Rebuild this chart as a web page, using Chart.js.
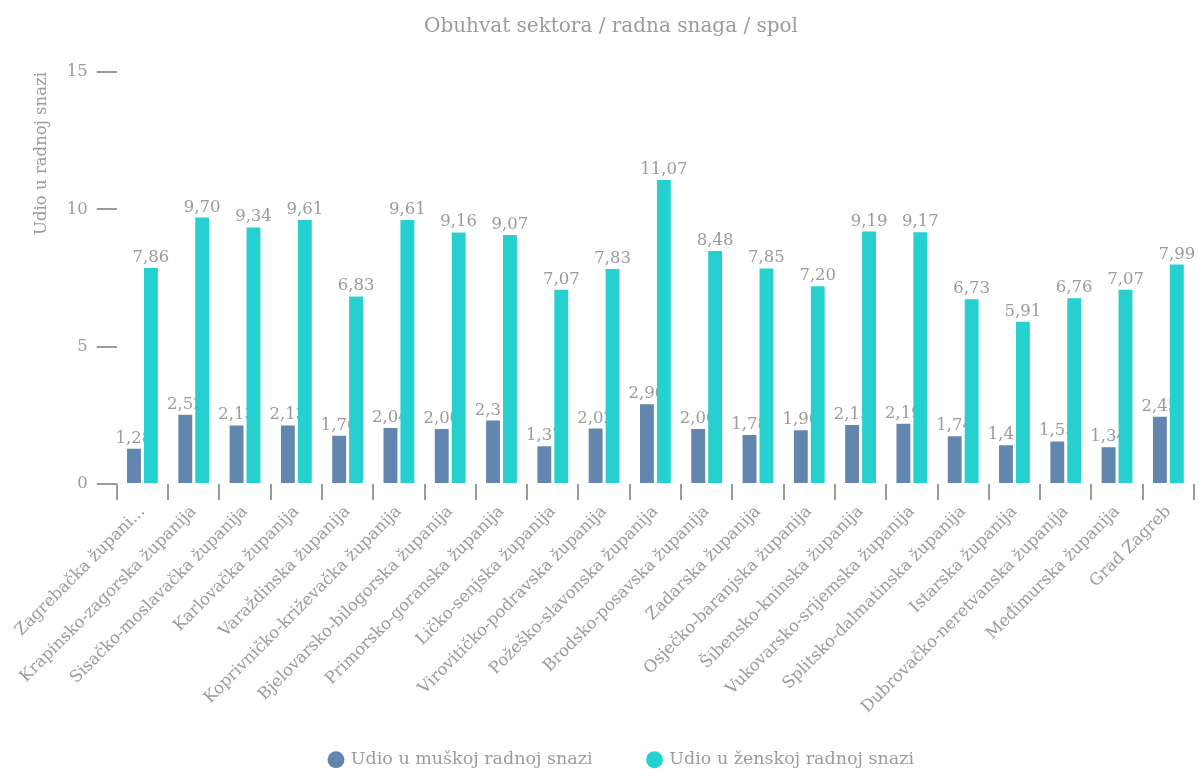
<!DOCTYPE html>
<html>
<head>
<meta charset="utf-8">
<script src="https://cdn.jsdelivr.net/npm/chart.js@4"></script>
<style>
  body { margin: 0; background: #fff; }
</style>
</head>
<body>
<canvas id="chart" width="1201" height="769"></canvas>
<script>
const zupanije = [
  'Zagrebačka župani...', 'Krapinsko-zagorska županija', 'Sisačko-moslavačka županija',
  'Karlovačka županija', 'Varaždinska županija', 'Koprivničko-križevačka županija',
  'Bjelovarsko-bilogorska županija', 'Primorsko-goranska županija', 'Ličko-senjska županija',
  'Virovitičko-podravska županija', 'Požeško-slavonska županija', 'Brodsko-posavska županija',
  'Zadarska županija', 'Osječko-baranjska županija', 'Šibensko-kninska županija',
  'Vukovarsko-srijemska županija', 'Splitsko-dalmatinska županija', 'Istarska županija',
  'Dubrovačko-neretvanska županija', 'Međimurska županija', 'Grad Zagreb'
];
const muskarci = [1.28, 2.52, 2.13, 2.13, 1.76, 2.04, 2.00, 2.31, 1.37, 2.02, 2.90,
                  2.00, 1.78, 1.96, 2.15, 2.19, 1.74, 1.41, 1.55, 1.34, 2.45];
const zene = [7.86, 9.70, 9.34, 9.61, 6.83, 9.61, 9.16, 9.07, 7.07, 7.83, 11.07,
              8.48, 7.85, 7.20, 9.19, 9.17, 6.73, 5.91, 6.76, 7.07, 7.99];

const siva = '#9b9b9b';
const font = 'DejaVu Serif';

function crtajOznake(chart, index) {
  const ctx = chart.ctx;
  const ds = chart.data.datasets[index];
  const meta = chart.getDatasetMeta(index);
  ctx.save();
  ctx.font = '16.5px "' + font + '"';
  ctx.fillStyle = siva;
  ctx.textAlign = 'center';
  ctx.textBaseline = 'alphabetic';
  meta.data.forEach(function (bar, i) {
    ctx.fillText(ds.data[i].toFixed(2).replace('.', ','), bar.x, bar.y - 6);
  });
  ctx.restore();
}

// oznake muških vrijednosti idu ispod stupaca (ženski stupci ih djelomično prekrivaju),
// oznake ženskih iznad svega
const oznake = {
  id: 'oznake',
  beforeDatasetsDraw(chart) { crtajOznake(chart, 0); },
  afterDatasetsDraw(chart) { crtajOznake(chart, 1); }
};

// x os je namjerno niža od svojih nakošenih natpisa; da se natpisi ne odrežu,
// donji rub osi spušta se do dna platna, a legenda se malo pomiče udesno
const raspored = {
  id: 'raspored',
  afterLayout(chart) {
    chart.scales.x.bottom = chart.height;
    chart.legend.left += 11;
    chart.legend.right += 11;
  }
};

const ctx = document.getElementById('chart').getContext('2d');
new Chart(ctx, {
  type: 'bar',
  data: {
    labels: zupanije,
    datasets: [{
      label: 'Udio u muškoj radnoj snazi',
      data: muskarci,
      backgroundColor: '#6286ad'
    }, {
      label: 'Udio u ženskoj radnoj snazi',
      data: zene,
      backgroundColor: '#26d0ce'
    }]
  },
  options: {
    responsive: false,
    animation: false,
    categoryPercentage: 0.66,
    barPercentage: 0.82,
    layout: { padding: { left: 28, right: 7, top: 0, bottom: -9.5 } },
    scales: {
      x: {
        grid: { drawOnChartArea: false, tickLength: 16, color: siva, lineWidth: 2 },
        border: { display: false },
        ticks: {
          color: siva, font: { family: font, size: 16.5 },
          maxRotation: 45, minRotation: 45, autoSkip: false, padding: 2
        },
        afterFit(scale) { scale.height = 211; }
      },
      y: {
        min: 0, max: 15,
        grid: { drawOnChartArea: false, tickLength: 20, color: siva, lineWidth: 2 },
        border: { display: false },
        ticks: { stepSize: 5, color: siva, font: { family: font, size: 16.5 }, padding: 9 },
        title: {
          display: true, text: 'Udio u radnoj snazi', align: 'end',
          color: siva, font: { family: font, size: 16.5 }, padding: { top: 4, bottom: 6 }
        }
      }
    },
    plugins: {
      title: {
        display: true,
        text: 'Obuhvat sektora / radna snaga / spol',
        color: siva,
        font: { family: font, size: 20, weight: 'normal' },
        padding: { top: 15, bottom: 33 }
      },
      legend: {
        position: 'bottom',
        labels: {
          usePointStyle: true, pointStyle: 'circle', boxWidth: 12, boxHeight: 12,
          padding: 56, color: siva, font: { family: font, size: 17.5 }
        }
      },
      tooltip: { enabled: false }
    }
  },
  plugins: [oznake, raspored]
});
</script>
</body>
</html>
